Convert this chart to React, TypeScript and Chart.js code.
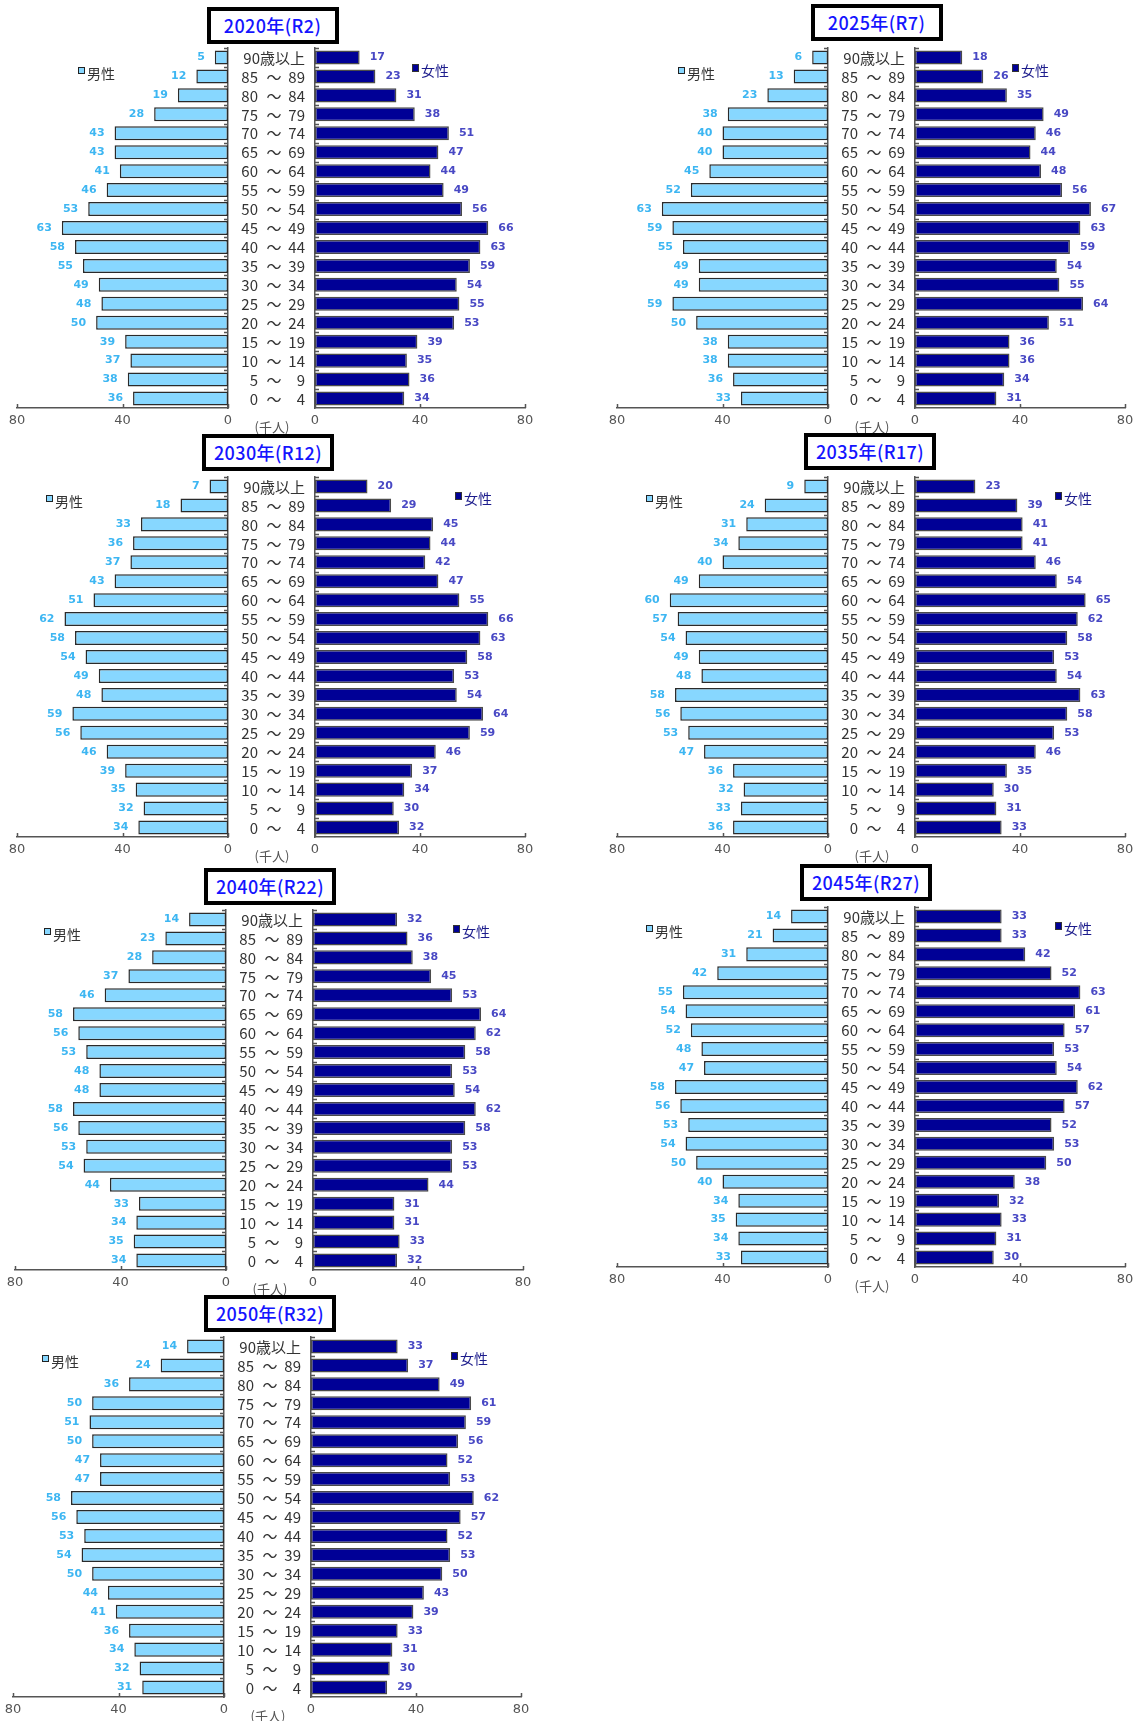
import React, { useEffect, useRef } from 'react';
import { Chart, registerables } from 'chart.js';

Chart.register(...registerables);

// ---------- data ----------
const AGE_GROUPS = [
  '90歳以上', '85 ～ 89', '80 ～ 84', '75 ～ 79', '70 ～ 74', '65 ～ 69', '60 ～ 64',
  '55 ～ 59', '50 ～ 54', '45 ～ 49', '40 ～ 44', '35 ～ 39', '30 ～ 34', '25 ～ 29',
  '20 ～ 24', '15 ～ 19', '10 ～ 14', '5 ～ 9', '0 ～ 4',
];
const X_MIN = 0;
const X_MAX = 80;
const X_STEP = 40;
const UNIT_LABEL = '(千人)';
const MALE_LABEL = '男性';
const FEMALE_LABEL = '女性';

const TITLES = ['2020年(R2)', '2025年(R7)', '2030年(R12)', '2035年(R17)', '2040年(R22)', '2045年(R27)', '2050年(R32)'];

const MALE_2020 = [5, 12, 19, 28, 43, 43, 41, 46, 53, 63, 58, 55, 49, 48, 50, 39, 37, 38, 36];
const FEMALE_2020 = [17, 23, 31, 38, 51, 47, 44, 49, 56, 66, 63, 59, 54, 55, 53, 39, 35, 36, 34];
const MALE_2025 = [6, 13, 23, 38, 40, 40, 45, 52, 63, 59, 55, 49, 49, 59, 50, 38, 38, 36, 33];
const FEMALE_2025 = [18, 26, 35, 49, 46, 44, 48, 56, 67, 63, 59, 54, 55, 64, 51, 36, 36, 34, 31];
const MALE_2030 = [7, 18, 33, 36, 37, 43, 51, 62, 58, 54, 49, 48, 59, 56, 46, 39, 35, 32, 34];
const FEMALE_2030 = [20, 29, 45, 44, 42, 47, 55, 66, 63, 58, 53, 54, 64, 59, 46, 37, 34, 30, 32];
const MALE_2035 = [9, 24, 31, 34, 40, 49, 60, 57, 54, 49, 48, 58, 56, 53, 47, 36, 32, 33, 36];
const FEMALE_2035 = [23, 39, 41, 41, 46, 54, 65, 62, 58, 53, 54, 63, 58, 53, 46, 35, 30, 31, 33];
const MALE_2040 = [14, 23, 28, 37, 46, 58, 56, 53, 48, 48, 58, 56, 53, 54, 44, 33, 34, 35, 34];
const FEMALE_2040 = [32, 36, 38, 45, 53, 64, 62, 58, 53, 54, 62, 58, 53, 53, 44, 31, 31, 33, 32];
const MALE_2045 = [14, 21, 31, 42, 55, 54, 52, 48, 47, 58, 56, 53, 54, 50, 40, 34, 35, 34, 33];
const FEMALE_2045 = [33, 33, 42, 52, 63, 61, 57, 53, 54, 62, 57, 52, 53, 50, 38, 32, 33, 31, 30];
const MALE_2050 = [14, 24, 36, 50, 51, 50, 47, 47, 58, 56, 53, 54, 50, 44, 41, 36, 34, 32, 31];
const FEMALE_2050 = [33, 37, 49, 61, 59, 56, 52, 53, 62, 57, 52, 53, 50, 43, 39, 33, 31, 30, 29];

const MALE_SERIES = [MALE_2020, MALE_2025, MALE_2030, MALE_2035, MALE_2040, MALE_2045, MALE_2050];
const FEMALE_SERIES = [FEMALE_2020, FEMALE_2025, FEMALE_2030, FEMALE_2035, FEMALE_2040, FEMALE_2045, FEMALE_2050];

// ---------- layout (positions only) ----------
type Layout = { x: number; y: number; titleCx: number; titleTop: number; legend: 'a' | 'b' };
const LAYOUT: Layout[] = [
  { x: 0, y: 0, titleCx: 272.5, titleTop: 7, legend: 'a' },
  { x: 600, y: 0, titleCx: 876.5, titleTop: 4, legend: 'a' },
  { x: 0, y: 429, titleCx: 268, titleTop: 434, legend: 'b' },
  { x: 600, y: 429, titleCx: 870, titleTop: 433, legend: 'b' },
  { x: -2, y: 862, titleCx: 270, titleTop: 868, legend: 'b' },
  { x: 600, y: 859, titleCx: 866, titleTop: 864, legend: 'b' },
  { x: -4, y: 1289, titleCx: 270, titleTop: 1295, legend: 'b' },
];

// ---------- styles ----------
const AXIS_COLOR = '#555';
const MALE_FILL = '#87d7ff';
const FEMALE_FILL = '#000096';
const MALE_BORDER = '#2a2a2a';
const FEMALE_BORDER = '#4a4a4a';
const MALE_TEXT = '#3db6f2';
const FEMALE_TEXT = '#4848c4';
const CJK = '"Noto Sans CJK JP", "Noto Sans", sans-serif';

const CANVAS_TOP = 38;
const CANVAS_H = 402;
const PAD_TOP = 10;
const X_AXIS_H = 32;

const innerTicks = {
  id: 'innerTicks',
  afterDraw(chart: any, _a: any, opts: any) {
    const { ctx, chartArea, scales } = chart;
    const xs = scales.x;
    const ys = scales.y;
    const male = opts.side === 'male';
    const axisX = male ? chartArea.right : chartArea.left;
    const dir = male ? -1 : 1;
    const half = (ys.getPixelForValue(1) - ys.getPixelForValue(0)) / 2;
    ctx.save();
    ctx.strokeStyle = AXIS_COLOR;
    ctx.lineWidth = 1.5;
    ctx.beginPath();
    for (let i = 0; i < ys.ticks.length; i++) {
      const yy = Math.round(ys.getPixelForValue(i) - half) + 0.5;
      ctx.moveTo(axisX, yy);
      ctx.lineTo(axisX + dir * 4, yy);
    }
    for (const t of xs.ticks) {
      const xx = Math.round(xs.getPixelForValue(t.value)) + 0.5;
      ctx.moveTo(xx, chartArea.bottom);
      ctx.lineTo(xx, chartArea.bottom - 4);
    }
    ctx.stroke();

    // value labels
    const meta = chart.getDatasetMeta(0);
    const data = chart.data.datasets[0].data;
    ctx.font = 'bold 11px "DejaVu Sans", sans-serif';
    ctx.fillStyle = male ? MALE_TEXT : FEMALE_TEXT;
    ctx.textBaseline = 'middle';
    ctx.textAlign = male ? 'right' : 'left';
    meta.data.forEach((el: any, i: number) => {
      ctx.fillText(String(data[i]), el.x + dir * 10, el.y);
    });

    // category labels (drawn once, on the female chart)
    if (!male) {
      ctx.font = '15px ' + CJK;
      ctx.fillStyle = '#333';
      const L = chartArea.left;
      chart.data.labels.forEach((lab: string, i: number) => {
        const yy = ys.getPixelForValue(i) + 0.5;
        if (lab.includes('～')) {
          const [a, b] = lab.split('～').map((s) => s.trim());
          ctx.textAlign = 'right';
          ctx.fillText(a, L - 57, yy);
          ctx.textAlign = 'center';
          ctx.fillText('～', L - 41, yy);
          ctx.textAlign = 'right';
          ctx.fillText(b, L - 10, yy);
        } else {
          ctx.textAlign = 'right';
          ctx.fillText(lab, L - 10, yy);
        }
      });
    }
    ctx.restore();
  },
};

function makeConfig(side: 'male' | 'female', values: number[], padLeft: number, padRight: number): any {
  const male = side === 'male';
  return {
    type: 'bar',
    data: {
      labels: AGE_GROUPS,
      datasets: [
        {
          data: values,
          backgroundColor: male ? MALE_FILL : FEMALE_FILL,
          borderColor: male ? MALE_BORDER : FEMALE_BORDER,
          borderWidth: 1.5,
          borderSkipped: false,
          barPercentage: 0.74,
          categoryPercentage: 1,
        },
      ],
    },
    options: {
      indexAxis: 'y',
      responsive: false,
      maintainAspectRatio: false,
      animation: false,
      devicePixelRatio: 1,
      layout: { padding: { left: padLeft, right: padRight, top: PAD_TOP, bottom: 0 } },
      plugins: {
        legend: { display: false },
        tooltip: { enabled: false },
        innerTicks: { side },
      },
      scales: {
        x: {
          type: 'linear',
          min: X_MIN,
          max: X_MAX,
          reverse: male,
          ticks: {
            stepSize: X_STEP,
            padding: 5,
            color: '#555',
            font: { family: '"DejaVu Sans", sans-serif', size: 13 },
            maxRotation: 0,
            autoSkip: false,
          },
          grid: { display: false, drawTicks: false },
          border: { display: true, color: AXIS_COLOR, width: 1.5 },
          afterFit: (s: any) => {
            s.height = X_AXIS_H;
          },
        },
        y: {
          type: 'category',
          position: male ? 'right' : 'left',
          ticks: { display: false },
          grid: { display: false, drawTicks: false },
          border: { display: true, color: AXIS_COLOR, width: 1.5 },
          afterFit: (s: any) => {
            s.width = 0;
          },
        },
      },
    },
    plugins: [innerTicks],
  };
}

function Panel({ idx }: { idx: number }) {
  const mRef = useRef<HTMLCanvasElement>(null);
  const fRef = useRef<HTMLCanvasElement>(null);
  const L = LAYOUT[idx];
  useEffect(() => {
    const m = new Chart(mRef.current as HTMLCanvasElement, makeConfig('male', MALE_SERIES[idx], 17, 12));
    const f = new Chart(fRef.current as HTMLCanvasElement, makeConfig('female', FEMALE_SERIES[idx], 86, 20));
    return () => {
      m.destroy();
      f.destroy();
    };
  }, [idx]);

  const legendA = L.legend === 'a';
  const mMarkX = legendA ? 78 : 46;
  const fMarkX = legendA ? 412 : 455;
  const mY = L.y + (legendA ? 73 : 72);
  const fY = L.y + (legendA ? 70 : 69);

  return (
    <>
      <canvas
        ref={mRef}
        width={240}
        height={CANVAS_H}
        style={{ position: 'absolute', left: L.x, top: L.y + CANVAS_TOP, width: 240, height: CANVAS_H }}
      />
      <canvas
        ref={fRef}
        width={316}
        height={CANVAS_H}
        style={{ position: 'absolute', left: L.x + 229, top: L.y + CANVAS_TOP, width: 316, height: CANVAS_H }}
      />
      <div
        style={{
          position: 'absolute',
          left: L.titleCx - 66,
          top: L.titleTop,
          width: 132,
          height: 37,
          boxSizing: 'border-box',
          border: '4px solid #000',
          background: '#fff',
          color: '#1414ff',
          font: '500 18px ' + CJK,
          letterSpacing: '0.4px',
          lineHeight: '29px',
          textAlign: 'center',
          whiteSpace: 'nowrap',
        }}
      >
        {TITLES[idx]}
      </div>
      <div
        style={{
          position: 'absolute',
          left: L.x + 232,
          width: 80,
          top: L.y + 417,
          lineHeight: '18px',
          textAlign: 'center',
          font: '13px ' + CJK,
          color: '#555',
        }}
      >
        {UNIT_LABEL}
      </div>
      {/* legend male */}
      <div
        style={{
          position: 'absolute',
          left: L.x + mMarkX,
          top: mY - 6,
          width: 7,
          height: 7,
          boxSizing: 'border-box',
          border: '1.5px solid #222',
          background: MALE_FILL,
        }}
      />
      <div
        style={{
          position: 'absolute',
          left: L.x + mMarkX + 9,
          top: mY - 10,
          lineHeight: '20px',
          font: '14px ' + CJK,
          color: '#333',
          whiteSpace: 'nowrap',
        }}
      >
        {MALE_LABEL}
      </div>
      {/* legend female */}
      <div
        style={{
          position: 'absolute',
          left: L.x + fMarkX,
          top: fY - 6,
          width: 7,
          height: 8,
          boxSizing: 'border-box',
          border: '1px solid #333',
          background: FEMALE_FILL,
        }}
      />
      <div
        style={{
          position: 'absolute',
          left: L.x + fMarkX + 9,
          top: fY - 10,
          lineHeight: '20px',
          font: '14px ' + CJK,
          color: '#1c1c8c',
          whiteSpace: 'nowrap',
        }}
      >
        {FEMALE_LABEL}
      </div>
    </>
  );
}

export default function App() {
  return (
    <div
      style={{
        position: 'absolute',
        left: 0,
        top: 0,
        width: 1140,
        height: 1721,
        overflow: 'hidden',
        background: '#fff',
      }}
    >
      {TITLES.map((_, i) => (
        <Panel key={i} idx={i} />
      ))}
    </div>
  );
}
